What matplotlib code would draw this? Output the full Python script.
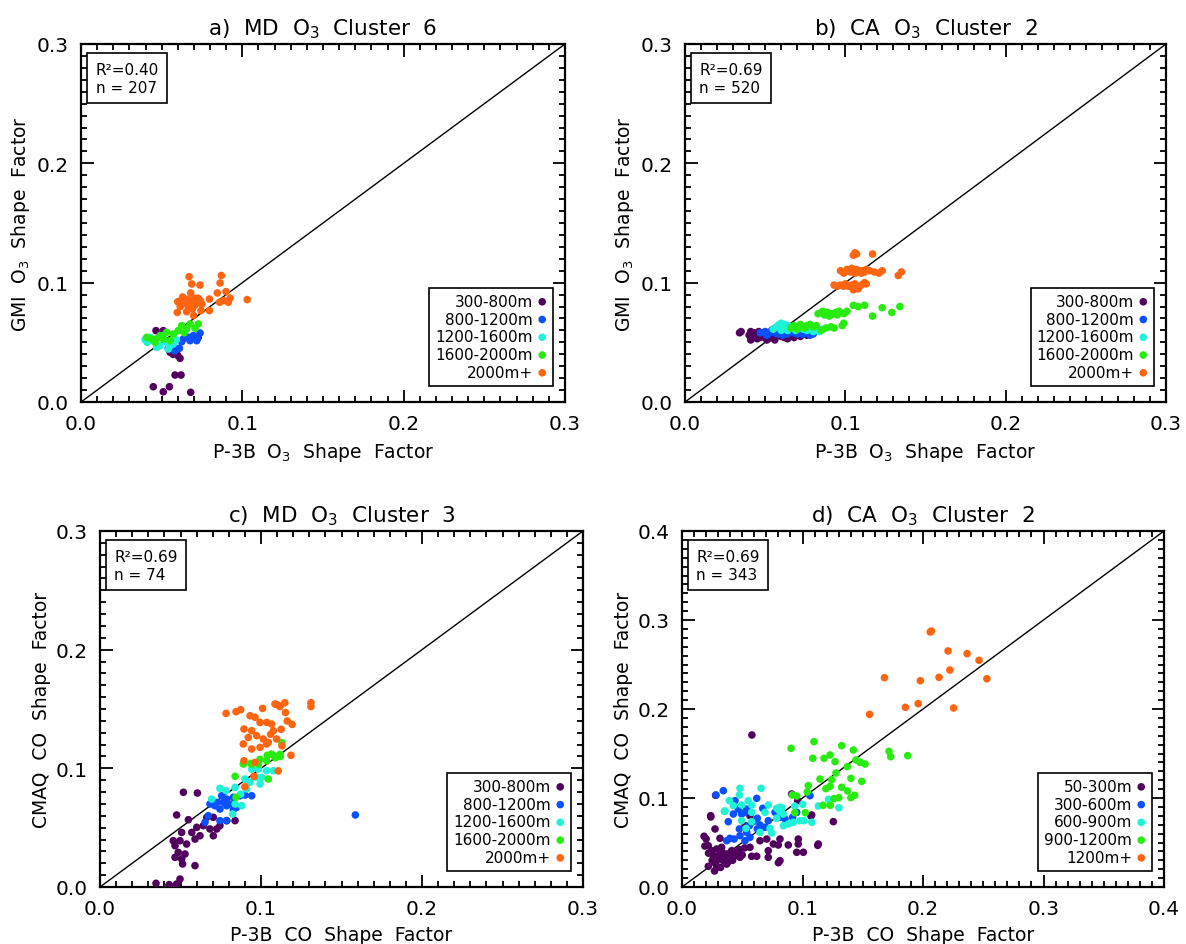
import numpy as np
import matplotlib
matplotlib.use("Agg")
from matplotlib import pyplot as plt
from matplotlib.ticker import MultipleLocator, FormatStrFormatter

plt.rcParams['font.family'] = ['DejaVu Sans']
plt.rcParams['mathtext.default'] = 'regular'

# ---------------- panel a) MD O3 Cluster 6 ----------------
a_x_300 = [0.0465, 0.051, 0.0552, 0.0583, 0.0614, 0.0583, 0.062, 0.0448, 0.051, 0.0548, 0.068, 0.0727, 0.057, 0.060]
a_y_300 = [0.0598, 0.0598, 0.0417, 0.0422, 0.0366, 0.0226, 0.0226, 0.0128, 0.0086, 0.0128, 0.0081, 0.0542, 0.040, 0.039]
a_x_800 = [0.0562, 0.0593, 0.061, 0.0634, 0.0665, 0.0696, 0.0738, 0.0717, 0.0676, 0.0624, 0.054, 0.058, 0.070, 0.072]
a_y_800 = [0.0444, 0.0444, 0.045, 0.0528, 0.0542, 0.0556, 0.0578, 0.0514, 0.0514, 0.0505, 0.045, 0.043, 0.055, 0.053]
a_x_1200 = [0.0397, 0.0428, 0.0469, 0.049, 0.0552, 0.0541, 0.0448, 0.051, 0.0572, 0.041, 0.053, 0.059]
a_y_1200 = [0.0522, 0.0542, 0.0458, 0.0472, 0.0472, 0.0444, 0.0514, 0.0556, 0.0486, 0.050, 0.050, 0.052]
a_x_1600 = [0.0624, 0.0676, 0.0727, 0.0655, 0.0572, 0.0531, 0.049, 0.0438, 0.0407, 0.0459, 0.051, 0.0552, 0.0603, 0.0707, 0.064, 0.047]
a_y_1600 = [0.064, 0.0654, 0.0654, 0.0612, 0.057, 0.0584, 0.0556, 0.0528, 0.0542, 0.050, 0.0528, 0.0514, 0.0598, 0.0618, 0.058, 0.053]
a_x_2000 = [0.067, 0.087, 0.0686, 0.0738, 0.0862, 0.068, 0.0845, 0.0899, 0.0796, 0.0924, 0.0913, 0.103,
            0.0597, 0.0655, 0.0698, 0.0744, 0.0796, 0.0859, 0.0884, 0.060, 0.062, 0.064, 0.066, 0.068,
            0.070, 0.072, 0.074, 0.0615, 0.0665, 0.0705, 0.075, 0.063, 0.069, 0.0725]
a_y_2000 = [0.105, 0.106, 0.0989, 0.098, 0.0997, 0.0914, 0.0914, 0.0925, 0.0863, 0.087, 0.0836, 0.0858,
            0.075, 0.0757, 0.0724, 0.0766, 0.0766, 0.0836, 0.085, 0.084, 0.085, 0.083, 0.086, 0.084,
            0.087, 0.083, 0.085, 0.080, 0.080, 0.081, 0.082, 0.088, 0.078, 0.087]

# ---------------- panel b) CA O3 Cluster 2 ----------------
b_x_300 = [0.034, 0.035, 0.040, 0.041, 0.042, 0.043, 0.044, 0.045, 0.046, 0.047, 0.048, 0.050, 0.052, 0.053, 0.055, 0.056,
           0.058, 0.060, 0.062, 0.064, 0.066, 0.068, 0.070, 0.072, 0.074, 0.076, 0.078, 0.041, 0.046, 0.051, 0.057, 0.063]
b_y_300 = [0.058, 0.059, 0.056, 0.052, 0.057, 0.058, 0.055, 0.053, 0.057, 0.054, 0.058, 0.055, 0.053, 0.056, 0.054, 0.052,
           0.056, 0.055, 0.054, 0.053, 0.055, 0.054, 0.056, 0.055, 0.057, 0.056, 0.058, 0.059, 0.059, 0.052, 0.057, 0.056]
b_x_800 = [0.047, 0.050, 0.052, 0.054, 0.056, 0.058, 0.060, 0.062, 0.064, 0.066, 0.068, 0.070, 0.072, 0.074, 0.076,
           0.078, 0.080, 0.055, 0.061, 0.067, 0.073, 0.051]
b_y_800 = [0.058, 0.059, 0.057, 0.060, 0.058, 0.057, 0.059, 0.058, 0.057, 0.059, 0.058, 0.057, 0.058, 0.057, 0.058,
           0.056, 0.057, 0.061, 0.056, 0.060, 0.057, 0.056]
b_x_1200 = [0.055, 0.057, 0.058, 0.059, 0.060, 0.061, 0.062, 0.063, 0.064, 0.065, 0.066, 0.068, 0.070, 0.072, 0.074,
            0.076, 0.078, 0.080, 0.082, 0.084, 0.086, 0.060, 0.064, 0.069]
b_y_1200 = [0.061, 0.063, 0.064, 0.065, 0.066, 0.064, 0.065, 0.063, 0.064, 0.062, 0.063, 0.062, 0.061, 0.062, 0.061,
            0.060, 0.061, 0.059, 0.060, 0.059, 0.061, 0.060, 0.060, 0.060]
b_x_1600 = [0.066, 0.068, 0.070, 0.072, 0.074, 0.076, 0.078, 0.080, 0.082, 0.070, 0.075, 0.088, 0.091, 0.093, 0.098,
            0.099, 0.085, 0.083, 0.085, 0.087, 0.089, 0.090, 0.092, 0.094, 0.095, 0.097, 0.099, 0.101, 0.086, 0.091,
            0.096, 0.105, 0.108, 0.112, 0.117, 0.123, 0.129, 0.134]
b_y_1600 = [0.062, 0.064, 0.063, 0.065, 0.063, 0.064, 0.065, 0.063, 0.064, 0.061, 0.062, 0.062, 0.063, 0.062, 0.064,
            0.066, 0.060, 0.074, 0.075, 0.073, 0.075, 0.072, 0.074, 0.075, 0.073, 0.075, 0.074, 0.076, 0.076, 0.073,
            0.076, 0.081, 0.080, 0.081, 0.072, 0.079, 0.075, 0.080]
b_x_2000 = [0.097, 0.099, 0.101, 0.103, 0.104, 0.105, 0.106, 0.107, 0.108, 0.109, 0.110, 0.111, 0.112, 0.113, 0.115,
            0.118, 0.121, 0.123, 0.133, 0.135, 0.093, 0.095, 0.097, 0.099, 0.100, 0.102, 0.104, 0.105, 0.106, 0.107,
            0.108, 0.110, 0.112, 0.113, 0.105, 0.108, 0.105, 0.106, 0.107, 0.117]
b_y_2000 = [0.110, 0.108, 0.111, 0.109, 0.112, 0.110, 0.108, 0.111, 0.109, 0.110, 0.108, 0.110, 0.109, 0.111, 0.110,
            0.109, 0.108, 0.110, 0.106, 0.109, 0.098, 0.097, 0.098, 0.097, 0.099, 0.097, 0.098, 0.096, 0.099, 0.097,
            0.095, 0.098, 0.100, 0.099, 0.094, 0.095, 0.123, 0.125, 0.124, 0.124]

# ---------------- panel c) MD O3 Cluster 3 ----------------
c_x_300 = [0.0518, 0.0605, 0.0476, 0.0549, 0.0663, 0.0704, 0.0642, 0.0683, 0.0601, 0.057, 0.0621, 0.0704, 0.0745,
           0.0787, 0.0725, 0.0507, 0.0497, 0.0538, 0.0455, 0.0486, 0.0528, 0.0466, 0.0507, 0.0513, 0.059, 0.0497,
           0.0476, 0.043, 0.0348, 0.0466, 0.0839, 0.059, 0.0429, 0.0474]
c_y_300 = [0.0798, 0.0792, 0.0607, 0.0567, 0.0587, 0.0587, 0.0517, 0.0489, 0.0503, 0.046, 0.0432, 0.0432, 0.0517,
           0.0559, 0.0489, 0.046, 0.039, 0.0362, 0.039, 0.0292, 0.0278, 0.025, 0.0236, 0.0194, 0.018, 0.0067,
           0.0025, 0.002, 0.0031, 0.0348, 0.0559, 0.0404, 0.0014, 0.0014]
c_x_800 = [0.0756, 0.0787, 0.0828, 0.087, 0.0901, 0.0942, 0.0714, 0.0745, 0.0787, 0.0818, 0.0849, 0.0725, 0.0683,
           0.0652, 0.0745, 0.0787, 0.0673, 0.0828, 0.0766, 0.1586]
c_y_800 = [0.0769, 0.0741, 0.0756, 0.0769, 0.0775, 0.0769, 0.0685, 0.0657, 0.0685, 0.0699, 0.0671, 0.0713, 0.0699,
           0.0545, 0.0559, 0.0559, 0.0601, 0.065, 0.0713, 0.0607]
c_x_1200 = [0.0745, 0.0783, 0.0839, 0.0901, 0.0932, 0.0973, 0.1004, 0.0994, 0.1035, 0.1077, 0.0984, 0.0942, 0.0911,
            0.0839, 0.088, 0.0824, 0.0694, 0.0874]
c_y_1200 = [0.0831, 0.0811, 0.084, 0.091, 0.0882, 0.0924, 0.0924, 0.0868, 0.098, 0.098, 0.0994, 0.0994, 0.0826,
            0.0699, 0.0685, 0.0615, 0.0741, 0.0783]
c_x_1600 = [0.1035, 0.1065, 0.109, 0.112, 0.089, 0.0942, 0.0984, 0.0839, 0.1045, 0.0845, 0.0994, 0.1039, 0.1084,
            0.1118, 0.0937, 0.113]
c_y_1600 = [0.1064, 0.112, 0.109, 0.110, 0.1036, 0.1036, 0.1036, 0.0933, 0.091, 0.0756, 0.1076, 0.111, 0.1104,
            0.1118, 0.1042, 0.1216]
c_x_2000 = [0.0783, 0.0845, 0.0874, 0.0932, 0.0963, 0.101, 0.1087, 0.1114, 0.0894, 0.0942, 0.0994, 0.1035, 0.1077,
            0.0921, 0.0973, 0.1014, 0.1045, 0.1097, 0.0942, 0.0994, 0.1035, 0.089, 0.1066, 0.0894, 0.0963, 0.090,
            0.0957, 0.131, 0.131, 0.1096, 0.1118, 0.1148, 0.1163, 0.1193, 0.1152, 0.1186, 0.1107, 0.113, 0.106, 0.1125]
c_y_2000 = [0.1463, 0.1477, 0.1494, 0.1443, 0.143, 0.1505, 0.1542, 0.1527, 0.1331, 0.1317, 0.1387, 0.1387, 0.1317,
            0.126, 0.1275, 0.1247, 0.1219, 0.1247, 0.1163, 0.1177, 0.1205, 0.1205, 0.1373, 0.1064, 0.105, 0.0845,
            0.0933, 0.1553, 0.152, 0.1539, 0.152, 0.1553, 0.1399, 0.137, 0.147, 0.111, 0.0978, 0.119, 0.1287, 0.1329]

# ---------------- panel d) CA O3 Cluster 2 (CO) ----------------
d_x_50 = [0.0238, 0.0183, 0.0274, 0.0315, 0.0218, 0.0246, 0.0288, 0.0329, 0.026, 0.031, 0.0371, 0.0412, 0.044, 0.0481,
          0.0398, 0.0343, 0.0218, 0.0288, 0.0371, 0.0467, 0.0564, 0.0647, 0.0703, 0.0758, 0.0813, 0.0716, 0.062,
          0.0716, 0.0578, 0.0813, 0.0799, 0.0882, 0.0965, 0.0952, 0.1007, 0.1131, 0.0965, 0.091, 0.096, 0.1076,
          0.0564, 0.0523, 0.058, 0.0279, 0.0239, 0.1126, 0.1256, 0.107, 0.080, 0.022, 0.025, 0.028, 0.030, 0.033,
          0.035, 0.038, 0.040, 0.042, 0.045, 0.048, 0.050, 0.052, 0.027, 0.032, 0.020, 0.019]
d_y_50 = [0.0801, 0.057, 0.0652, 0.0547, 0.0464, 0.0408, 0.0427, 0.0446, 0.0352, 0.0315, 0.0371, 0.0408, 0.0352,
          0.0334, 0.0315, 0.0296, 0.0232, 0.0221, 0.0258, 0.0408, 0.0446, 0.052, 0.0539, 0.0483, 0.0539, 0.0408,
          0.0345, 0.0334, 0.0345, 0.0296, 0.0472, 0.0472, 0.0483, 0.039, 0.039, 0.0483, 0.0539, 0.1045, 0.097,
          0.0809, 0.0801, 0.0689, 0.1708, 0.103, 0.0787, 0.0468, 0.0734, 0.0798, 0.0273, 0.038, 0.030, 0.026,
          0.035, 0.040, 0.033, 0.028, 0.036, 0.030, 0.038, 0.042, 0.036, 0.044, 0.018, 0.022, 0.054, 0.046]
d_x_300 = [0.0343, 0.0282, 0.044, 0.0467, 0.0537, 0.0523, 0.0495, 0.0426, 0.0384, 0.062, 0.067, 0.0625, 0.0592,
           0.0647, 0.0716, 0.0689, 0.0625, 0.0537, 0.0481, 0.0432, 0.0371, 0.0398, 0.0476, 0.0559, 0.0523, 0.0564,
           0.0772, 0.0918, 0.0855, 0.1062, 0.0952, 0.0813]
d_y_300 = [0.1082, 0.1034, 0.097, 0.0876, 0.0876, 0.0839, 0.082, 0.082, 0.0734, 0.0996, 0.0884, 0.0772, 0.0734,
           0.0697, 0.0745, 0.0671, 0.0652, 0.0614, 0.0577, 0.0539, 0.052, 0.0547, 0.0652, 0.0689, 0.052, 0.0558,
           0.0839, 0.0783, 0.0764, 0.1026, 0.0839, 0.0783]
d_x_600 = [0.0481, 0.0656, 0.0476, 0.0393, 0.0351, 0.0426, 0.0495, 0.055, 0.0578, 0.0716, 0.0786, 0.0813, 0.0841,
           0.0689, 0.0578, 0.0531, 0.0647, 0.073, 0.0744, 0.0841, 0.0882, 0.0924, 0.0979, 0.1012, 0.1076, 0.0495,
           0.0578, 0.0786, 0.0813, 0.1302, 0.1216, 0.1132, 0.1002, 0.0936, 0.0828, 0.0357]
d_y_600 = [0.1109, 0.1109, 0.1034, 0.097, 0.085, 0.0914, 0.0921, 0.097, 0.0921, 0.0921, 0.0884, 0.0846, 0.082,
           0.0839, 0.0839, 0.0659, 0.0614, 0.0659, 0.0607, 0.0689, 0.0708, 0.0727, 0.0745, 0.0745, 0.0727, 0.0745,
           0.0734, 0.0772, 0.0896, 0.0891, 0.0985, 0.091, 0.0929, 0.091, 0.0891, 0.0854]
d_x_900 = [0.0905, 0.1095, 0.1085, 0.1178, 0.1228, 0.127, 0.1325, 0.1422, 0.1372, 0.1444, 0.1477, 0.1519, 0.1278,
           0.1145, 0.1242, 0.1402, 0.1491, 0.1048, 0.1228, 0.1325, 0.1718, 0.1732, 0.1873, 0.0915, 0.0952, 0.1039,
           0.1172, 0.1231, 0.1262, 0.1302, 0.1374, 0.1401, 0.1433, 0.0936, 0.1023, 0.1194]
d_y_900 = [0.1558, 0.1633, 0.1446, 0.1446, 0.1483, 0.1408, 0.1588, 0.1539, 0.1352, 0.1427, 0.1401, 0.1382, 0.1281,
           0.1213, 0.1206, 0.1221, 0.1187, 0.1139, 0.1131, 0.112, 0.1524, 0.1464, 0.1476, 0.1034, 0.1022, 0.1067,
           0.0918, 0.0918, 0.0993, 0.1004, 0.1079, 0.1004, 0.103, 0.0835, 0.0835, 0.1105]
d_x_1200 = [0.206, 0.207, 0.2208, 0.2366, 0.2465, 0.2223, 0.2133, 0.1978, 0.168, 0.253, 0.1854, 0.196, 0.2254, 0.1557]
d_y_1200 = [0.2865, 0.2876, 0.2652, 0.2622, 0.2547, 0.2438, 0.2356, 0.2318, 0.2352, 0.234, 0.2019, 0.206, 0.2011, 0.194]

stats_a = "R²=0.40\nn = 207"
stats_b = "R²=0.69\nn = 520"
stats_c = "R²=0.69\nn = 74"
stats_d = "R²=0.69\nn = 343"

bins_o3 = ["300-800m", "800-1200m", "1200-1600m", "1600-2000m", "2000m+"]
bins_co = ["50-300m", "300-600m", "600-900m", "900-1200m", "1200m+"]
colors = ['#52005e', '#0a50ff', '#1ff2d6', '#28ec10', '#ff6410']

fig = plt.figure(figsize=(11.86, 9.45), dpi=100)
W, H = 1186., 945.

def make_ax(x0, x1, ytop, ybot):
    return fig.add_axes([x0 / W, 1 - ybot / H, (x1 - x0) / W, (ybot - ytop) / H])

panels = [
    (make_ax(81, 565, 45, 403), 0.3, "a)  MD  O$_3$  Cluster  6", "P-3B  O$_3$  Shape  Factor",
     "GMI  O$_3$  Shape  Factor", stats_a, bins_o3,
     [(a_x_300, a_y_300), (a_x_800, a_y_800), (a_x_1200, a_y_1200), (a_x_1600, a_y_1600), (a_x_2000, a_y_2000)]),
    (make_ax(685, 1166, 45, 403), 0.3, "b)  CA  O$_3$  Cluster  2", "P-3B  O$_3$  Shape  Factor",
     "GMI  O$_3$  Shape  Factor", stats_b, bins_o3,
     [(b_x_300, b_y_300), (b_x_800, b_y_800), (b_x_1200, b_y_1200), (b_x_1600, b_y_1600), (b_x_2000, b_y_2000)]),
    (make_ax(100, 583, 532, 888), 0.3, "c)  MD  O$_3$  Cluster  3", "P-3B  CO  Shape  Factor",
     "CMAQ  CO  Shape  Factor", stats_c, bins_o3,
     [(c_x_300, c_y_300), (c_x_800, c_y_800), (c_x_1200, c_y_1200), (c_x_1600, c_y_1600), (c_x_2000, c_y_2000)]),
    (make_ax(682, 1164, 532, 888), 0.4, "d)  CA  O$_3$  Cluster  2", "P-3B  CO  Shape  Factor",
     "CMAQ  CO  Shape  Factor", stats_d, bins_co,
     [(d_x_50, d_y_50), (d_x_300, d_y_300), (d_x_600, d_y_600), (d_x_900, d_y_900), (d_x_1200, d_y_1200)]),
]

for ax, lim, title, xlab, ylab, stats, bins, series in panels:
    for (xs, ys), lab, col in zip(series, bins, colors):
        ax.scatter(xs, ys, s=30, c=col, edgecolors='none', label=lab, zorder=3)
    ax.plot([0, lim], [0, lim], color='black', lw=1.0, zorder=2)
    ax.set_xlim(0, lim)
    ax.set_ylim(0, lim)
    ax.xaxis.set_major_locator(MultipleLocator(0.1))
    ax.yaxis.set_major_locator(MultipleLocator(0.1))
    ax.xaxis.set_minor_locator(MultipleLocator(0.01))
    ax.yaxis.set_minor_locator(MultipleLocator(0.01))
    ax.xaxis.set_major_formatter(FormatStrFormatter('%.1f'))
    ax.yaxis.set_major_formatter(FormatStrFormatter('%.1f'))
    ax.tick_params(which='both', direction='in', top=True, right=True, width=1.3)
    ax.tick_params(which='major', length=9, labelsize=14.5, pad=9)
    ax.tick_params(which='minor', length=4.5)
    for sp in ax.spines.values():
        sp.set_linewidth(1.6)
    ax.set_title(title, fontsize=15.5, pad=7)
    ax.set_xlabel(xlab, fontsize=13.5, labelpad=5)
    ax.set_ylabel(ylab, fontsize=13.5, labelpad=3.5)
    ax.text(0.03, 0.95, stats, transform=ax.transAxes, ha='left', va='top', fontsize=11,
            linespacing=1.25,
            bbox=dict(boxstyle='square,pad=0.55', fc='white', ec='black', lw=1.2), zorder=5)
    leg = ax.legend(loc='lower right', bbox_to_anchor=(0.975, 0.045), borderaxespad=0,
                    markerfirst=False, fontsize=11, handletextpad=0.3, handlelength=0.6,
                    labelspacing=0.18, borderpad=0.4, fancybox=False, edgecolor='black',
                    framealpha=1, scatterpoints=1)
    leg.get_frame().set_linewidth(1.2)
    leg.set_zorder(6)

fig.savefig('out.png', dpi=100)
